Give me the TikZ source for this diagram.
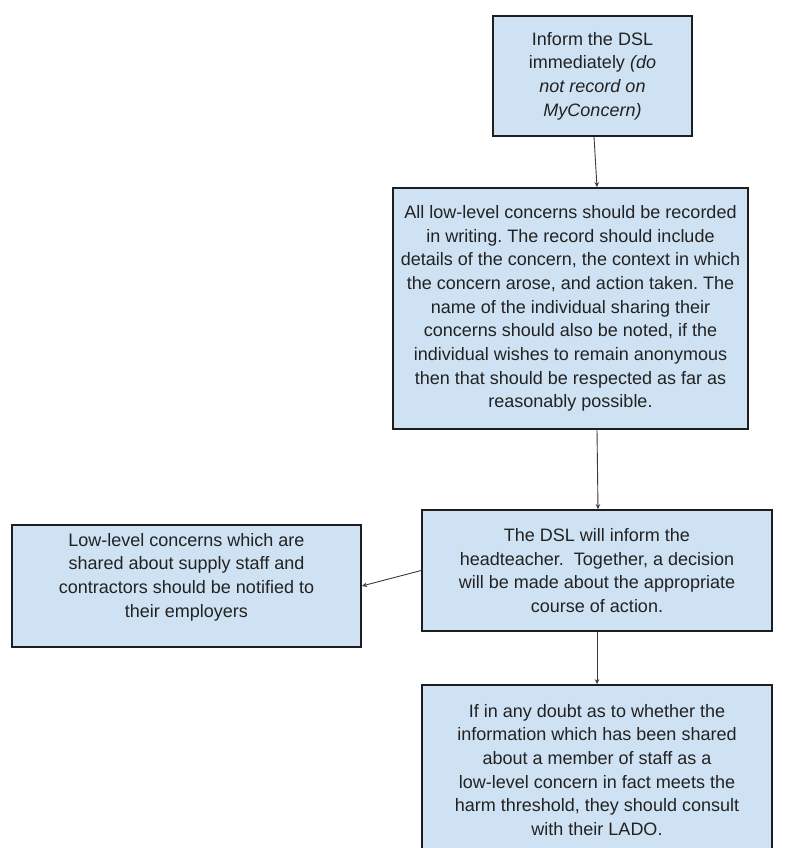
\documentclass[tikz,border=0pt]{standalone}
\usepackage{fontspec}
\setmainfont{Liberation Sans}
\usetikzlibrary{arrows.meta}
\definecolor{boxfill}{HTML}{CFE2F3}
\definecolor{boxline}{HTML}{1E1E1E}
\definecolor{txtcol}{HTML}{222222}
\definecolor{conncol}{HTML}{3A3A3A}
\frenchspacing
\begin{document}
\begin{tikzpicture}[x=1pt,y=-1pt,
  boxshape/.style={draw=boxline, line width=1.8pt, fill=boxfill, inner sep=0pt},
  boxtext/.style={align=center, inner sep=0pt, text=txtcol, font=\fontsize{18}{23.7}\selectfont},
  conn/.style={draw=conncol, line width=0.9pt, -{Stealth[length=5pt,width=4.5pt]}}]
\useasboundingbox (0,0) rectangle (792,848);
\clip (0,0) rectangle (792,848);
\fill[white] (0,0) rectangle (792,848);

\node[boxshape, minimum width=199pt, minimum height=120pt] (b1) at (592.5,76) {};
\node[boxtext] (t1) at (b1.center) {Inform the DSL\\immediately \textit{(do}\\\textit{not record on}\\\textit{MyConcern)}};

\node[boxshape, minimum width=355pt, minimum height=241pt] (b2) at (570.5,308.5) {};
\node[boxtext] (t2) at (b2.center) {All low-level concerns should be recorded\\in writing. The record should include\\details of the concern, the context in which\\the concern arose, and action taken. The\\name of the individual sharing their\\concerns should also be noted, if the\\individual wishes to remain anonymous\\then that should be respected as far as\\reasonably possible.};

\node[boxshape, minimum width=350pt, minimum height=121pt] (b3) at (597,570.5) {};
\node[boxtext] (t3) at (b3.center) {The DSL will inform the\\headteacher.\ \ Together, a decision\\will be made about the appropriate\\course of action.};

\node[boxshape, minimum width=349pt, minimum height=122pt] (b4) at (186.5,586) {};
\node[boxtext] (t4) at ([yshift=9pt]b4.center) {Low-level concerns which are\\shared about supply staff and\\contractors should be notified to\\their employers};

\node[boxshape, minimum width=350pt, minimum height=170pt] (b5) at (597,770) {};
\node[boxtext] (t5) at (b5.center) {If in any doubt as to whether the\\information which has been shared\\about a member of staff as a\\low-level concern in fact meets the\\harm threshold, they should consult\\with their LADO.};

\draw[conn] ([xshift=1.5pt]b1.south) -- ([xshift=26.5pt]b2.north);
\draw[conn] ([xshift=26.5pt]b2.south) -- ([xshift=1pt]b3.north);
\draw[conn] (b3.west) -- (b4.east);
\draw[conn] (b3.south) -- (b5.north);
\end{tikzpicture}
\end{document}
